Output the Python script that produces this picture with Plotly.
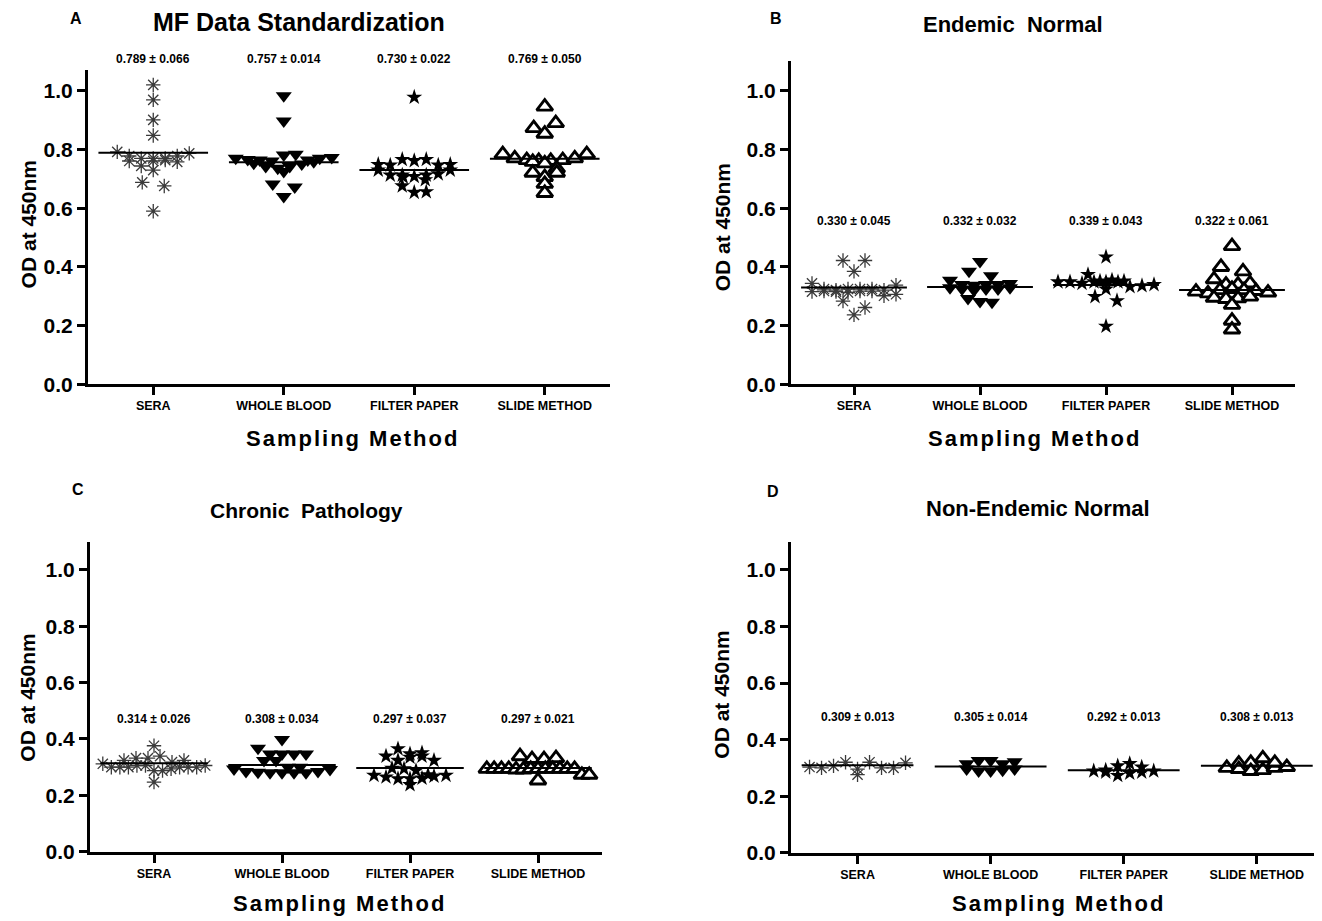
import plotly.graph_objects as go

# ---------------- data ----------------
categories = ["SERA", "WHOLE BLOOD", "FILTER PAPER", "SLIDE METHOD"]
panel_titles = ["MF Data Standardization", "Endemic  Normal", "Chronic  Pathology", "Non-Endemic Normal"]
panel_letters = ["A", "B", "C", "D"]

# Panel A
a_sera = [1.020, 0.969, 0.901, 0.848, 0.792, 0.761, 0.778, 0.744, 0.770, 0.770,
          0.761, 0.764, 0.770, 0.778, 0.787, 0.758, 0.730, 0.688, 0.676, 0.590]
a_whole = [0.983, 0.897, 0.770, 0.766, 0.764, 0.761, 0.753, 0.781, 0.784, 0.742,
           0.736, 0.725, 0.742, 0.751, 0.758, 0.764, 0.770, 0.773, 0.683, 0.672, 0.640]
a_filter = [0.978, 0.749, 0.747, 0.766, 0.762, 0.766, 0.747, 0.749, 0.730, 0.706,
            0.713, 0.713, 0.708, 0.713, 0.717, 0.730, 0.697, 0.676, 0.654, 0.656]
a_slide = [0.946, 0.873, 0.890, 0.854, 0.784, 0.770, 0.764, 0.761, 0.758, 0.761,
           0.764, 0.770, 0.784, 0.753, 0.736, 0.721, 0.706, 0.721, 0.683, 0.652]
a_means = [0.789, 0.757, 0.730, 0.769]
a_sds = [0.066, 0.014, 0.022, 0.050]

# Panel B
b_sera = [0.422, 0.422, 0.385, 0.344, 0.325, 0.316, 0.321, 0.325, 0.318, 0.316, 0.325,
          0.325, 0.321, 0.313, 0.338, 0.318, 0.318, 0.302, 0.307, 0.284, 0.262, 0.237]
b_whole = [0.419, 0.385, 0.370, 0.355, 0.340, 0.338, 0.340, 0.340, 0.344, 0.329,
           0.325, 0.321, 0.325, 0.325, 0.329, 0.293, 0.282, 0.280]
b_filter = [0.434, 0.374, 0.352, 0.349, 0.349, 0.355, 0.344, 0.349, 0.349, 0.349,
            0.352, 0.333, 0.336, 0.340, 0.325, 0.299, 0.285, 0.198]
b_slide = [0.471, 0.400, 0.385, 0.358, 0.340, 0.340, 0.344, 0.316, 0.310, 0.321, 0.325,
           0.321, 0.318, 0.313, 0.295, 0.291, 0.293, 0.299, 0.271, 0.217, 0.187]
b_means = [0.330, 0.332, 0.339, 0.322]
b_sds = [0.045, 0.032, 0.043, 0.061]

# Panel C
c_sera = [0.376, 0.324, 0.332, 0.332, 0.339, 0.312, 0.300, 0.300, 0.300, 0.306, 0.306,
          0.288, 0.247, 0.288, 0.294, 0.300, 0.300, 0.300, 0.306, 0.318, 0.324]
c_whole = [0.398, 0.367, 0.347, 0.347, 0.347, 0.347, 0.324, 0.324, 0.300, 0.294,
           0.285, 0.282, 0.280, 0.280, 0.280, 0.280, 0.285, 0.292, 0.300]
c_filter = [0.365, 0.339, 0.324, 0.347, 0.351, 0.335, 0.339, 0.324, 0.296, 0.294,
            0.288, 0.271, 0.265, 0.259, 0.273, 0.259, 0.261, 0.268, 0.271, 0.238]
c_slide = [0.339, 0.329, 0.329, 0.332, 0.294, 0.294, 0.294, 0.294, 0.292, 0.292,
           0.294, 0.294, 0.294, 0.294, 0.294, 0.294, 0.294, 0.273, 0.273, 0.253]
c_means = [0.314, 0.308, 0.297, 0.297]
c_sds = [0.026, 0.034, 0.037, 0.021]

# Panel D
d_sera = [0.303, 0.300, 0.307, 0.320, 0.276, 0.296, 0.320, 0.300, 0.300, 0.318]
d_whole = [0.315, 0.296, 0.289, 0.326, 0.289, 0.326, 0.292, 0.296, 0.315, 0.322]
d_filter = [0.292, 0.289, 0.285, 0.307, 0.273, 0.281, 0.315, 0.285, 0.289, 0.303]
d_slide = [0.315, 0.300, 0.296, 0.318, 0.289, 0.334, 0.292, 0.300, 0.303, 0.318]
d_means = [0.309, 0.305, 0.292, 0.308]
d_sds = [0.013, 0.014, 0.013, 0.013]

y_ticks = [0.0, 0.2, 0.4, 0.6, 0.8, 1.0]

# ---------------- layout (pixels) ----------------
W, H = 1322, 921
FONT = "Liberation Sans, Arial, sans-serif"

panels = [
    dict(groups=[a_sera, a_whole, a_filter, a_slide], means=a_means, sds=a_sds,
         x0=80, x1=602, xr=(-0.5, 3.5), ybot=381, ytop=63, yr=1.07, label_y=1.108,
         title=(291, 14, 25), letter_xy=(68, 11), ytitle_xy=(20, 219), xtitle_xy=(344, 436)),
    dict(groups=[b_sera, b_whole, b_filter, b_slide], means=b_means, sds=b_sds,
         x0=783, x1=1287, xr=(-0.5, 3.5), ybot=381, ytop=54, yr=1.1, label_y=0.555,
         title=(1005, 17, 22), letter_xy=(768, 11), ytitle_xy=(714, 222), xtitle_xy=(1026, 436)),
    dict(groups=[c_sera, c_whole, c_filter, c_slide], means=c_means, sds=c_sds,
         x0=82, x1=594, xr=(-0.5, 3.5), ybot=854, ytop=540, yr=1.1, label_y=0.47,
         title=(298, 509, 21), letter_xy=(70, 487), ytitle_xy=(20, 698), xtitle_xy=(331, 906)),
    dict(groups=[d_sera, d_whole, d_filter, d_slide], means=d_means, sds=d_sds,
         x0=783, x1=1322, xr=(-0.5, 3.55), ybot=855, ytop=540, yr=1.1, label_y=0.48,
         title=(1030, 507, 22), letter_xy=(765, 489), ytitle_xy=(714, 695), xtitle_xy=(1050, 906)),
]

marker_styles = [
    dict(symbol="asterisk-open", size=12, color="#3a3a3a", line=dict(width=1.3, color="#3a3a3a")),
    dict(symbol="triangle-down", size=14, color="black", line=dict(width=0, color="black")),
    dict(symbol="star", size=12, color="black", line=dict(width=0, color="black")),
    dict(symbol="triangle-up", size=14, color="white", line=dict(width=2.9, color="black")),
]


def column_scatter(vals, sx, sy, row_h=7.0, step=12.0, pair_step=22.0, max_w=100.0):
    """Prism-like column scatter: bin values into rows, spread each row horizontally."""
    n = len(vals)
    order = sorted(range(n), key=lambda i: -vals[i])
    rows, cur, top = [], [], None
    for i in order:
        if cur and (top - vals[i]) * sy > row_h:
            rows.append(cur)
            cur = []
        if not cur:
            top = vals[i]
        cur.append(i)
    if cur:
        rows.append(cur)
    offs = [0.0] * n
    for r in rows:
        r = sorted(r)
        k = len(r)
        if k == 1:
            continue
        s = pair_step if k == 2 else step
        s = min(s, max_w / (k - 1))
        for j, i in enumerate(r):
            offs[i] = (j - (k - 1) / 2.0) * s / sx
    return offs


fig = go.Figure()
annotations = []
layout_axes = {}

for k, p in enumerate(panels):
    idx = "" if k == 0 else str(k + 1)
    xa, ya = "x" + idx, "y" + idx
    sx = (p["x1"] - p["x0"]) / (p["xr"][1] - p["xr"][0])
    sy = (p["ybot"] - p["ytop"]) / p["yr"]
    y_dom = [1 - p["ybot"] / H, 1 - p["ytop"] / H]
    for g, vals in enumerate(p["groups"]):
        offs = column_scatter(vals, sx, sy, max_w=0.8 * sx)
        fig.add_trace(go.Scatter(
            x=[g + o for o in offs], y=vals, mode="markers",
            marker=marker_styles[g], xaxis=xa, yaxis=ya, showlegend=False,
            cliponaxis=False, hoverinfo="y"))
        m = p["means"][g]
        fig.add_trace(go.Scatter(
            x=[g - 0.42, g + 0.42], y=[m, m], mode="lines",
            line=dict(color="black", width=2), xaxis=xa, yaxis=ya,
            showlegend=False, hoverinfo="skip", cliponaxis=False))
        annotations.append(dict(
            x=g, y=y_dom[0] + (y_dom[1] - y_dom[0]) * p["label_y"] / p["yr"],
            xref=xa, yref="paper",
            text=f"{m:.3f} \u00b1 {p['sds'][g]:.3f}", showarrow=False,
            font=dict(family=FONT, size=12, color="black", weight="bold"),
            xanchor="center", yanchor="middle"))

    layout_axes["xaxis" + idx] = dict(
        domain=[p["x0"] / W, min(1.0, p["x1"] / W)], range=list(p["xr"]),
        tickvals=[0, 1, 2, 3], ticktext=categories, showgrid=False, zeroline=False,
        showline=True, linewidth=3, linecolor="black", ticks="outside",
        ticklen=8, tickwidth=3, tickcolor="black", anchor=ya, fixedrange=True,
        tickfont=dict(family=FONT, size=12.5, color="black", weight="bold"))
    layout_axes["yaxis" + idx] = dict(
        domain=y_dom, range=[0, p["yr"]],
        tickvals=y_ticks, tickformat=".1f", showgrid=False, zeroline=False,
        showline=True, linewidth=3, linecolor="black", ticks="outside",
        ticklen=8, tickwidth=3, tickcolor="black", anchor=xa, fixedrange=True,
        tickfont=dict(family=FONT, size=21, color="black", weight="bold"))

    tx, ty, tsize = p["title"]
    annotations.append(dict(x=tx / W, y=1 - ty / H, xref="paper", yref="paper",
                            text=panel_titles[k], showarrow=False,
                            font=dict(family=FONT, size=tsize, color="black", weight="bold"),
                            xanchor="center", yanchor="middle"))
    lx, ly = p["letter_xy"]
    annotations.append(dict(x=lx / W, y=1 - ly / H, xref="paper", yref="paper",
                            text=panel_letters[k], showarrow=False,
                            font=dict(family=FONT, size=16, color="black", weight="bold"),
                            xanchor="center", yanchor="middle"))
    yx, yy = p["ytitle_xy"]
    annotations.append(dict(x=yx / W, y=1 - yy / H, xref="paper", yref="paper",
                            text="OD at 450nm", showarrow=False, textangle=-90,
                            font=dict(family=FONT, size=21, color="black", weight="bold"),
                            xanchor="center", yanchor="middle"))
    xx, xy = p["xtitle_xy"]
    annotations.append(dict(x=xx / W, y=1 - xy / H, xref="paper", yref="paper",
                            text='<span style="letter-spacing:2px">Sampling Method</span>',
                            showarrow=False,
                            font=dict(family=FONT, size=22, color="black", weight="bold"),
                            xanchor="center", yanchor="middle"))

fig.update_layout(
    width=W, height=H, margin=dict(l=0, r=0, t=0, b=0),
    paper_bgcolor="white", plot_bgcolor="white",
    annotations=annotations, **layout_axes)

fig.write_html("out.html")
